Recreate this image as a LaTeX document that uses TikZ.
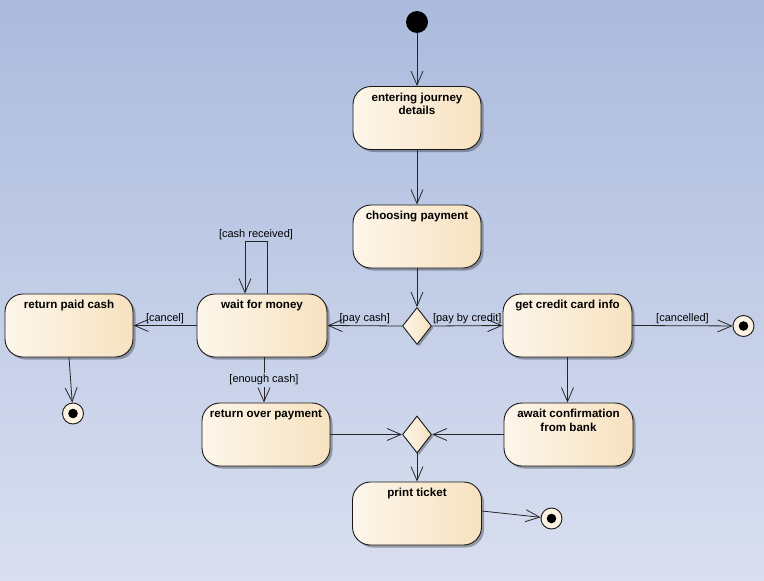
\documentclass[tikz,border=0pt]{standalone}
\usepackage{fontspec}
\setmainfont{Liberation Sans}
\usetikzlibrary{arrows.meta,shapes.geometric,shadows,calc}
\definecolor{bgT}{RGB}{171,187,221}
\definecolor{bgB}{RGB}{217,223,240}
\definecolor{bgmid}{RGB}{200,210,233}
\definecolor{nodeL}{RGB}{253,246,234}
\definecolor{nodeR}{RGB}{247,226,192}
\definecolor{endfill}{RGB}{252,243,226}
\newcommand{\sttext}[1]{\parbox[c][63pt][t]{124pt}{\centering\rule{0pt}{14.5pt}#1}}
\tikzset{
  state/.style={rectangle, rounded corners=18pt, draw=black!90, line width=0.9pt,
    left color=nodeL, right color=nodeR, minimum width=128pt, minimum height=63pt,
    inner sep=0pt, drop shadow={shadow xshift=2.5pt, shadow yshift=-2.5pt, fill=black, opacity=0.3},
    font=\bfseries\fontsize{11.6}{13.5}\selectfont},
  choice/.style={diamond, draw=black!90, line width=0.9pt, left color=nodeL, right color=nodeR,
    minimum width=29pt, minimum height=37pt, inner sep=0pt,
    drop shadow={shadow xshift=2pt, shadow yshift=-2pt, fill=black, opacity=0.3}},
  initial/.style={circle, fill=black, minimum size=22pt, inner sep=0pt},
  final/.style={circle, draw=black!90, line width=0.9pt, fill=endfill, minimum size=21pt, inner sep=0pt,
    path picture={\fill[black] (path picture bounding box.center) circle (4.8pt);}},
  arr/.style={draw=black!85, line width=0.8pt, -{Straight Barb[length=14pt,width=12pt]}},
  lbl/.style={font=\fontsize{11}{13}\selectfont, inner sep=1.5pt, text=black}
}
\begin{document}
\begin{tikzpicture}[x=1pt,y=-1pt]
\useasboundingbox (0,0) rectangle (764,581);
\shade[top color=bgT, bottom color=bgB] (0,0) rectangle (764,581);

\node[initial] (start) at (417,22) {};
\node[state] (enter) at (417,118) {\sttext{entering journey\\details}};
\node[state] (choose) at (417,236.5) {\sttext{choosing payment}};
\node[choice] (d1) at (417,326) {};
\node[state, minimum width=130pt] (wait) at (262,325.5) {\sttext{wait for money}};
\node[state] (retcash) at (69,325.5) {\sttext{return paid cash}};
\node[state, minimum width=129pt] (gcc) at (567.5,325.5) {\sttext{get credit card info}};
\node[final] (e1) at (743.5,326) {};
\node[final] (e2) at (73,413.5) {};
\node[state] (rop) at (266,434.5) {\sttext{return over payment}};
\node[state, minimum width=129pt] (await) at (568.5,434.5) {\sttext{await confirmation\\from bank}};
\node[choice] (d2) at (417,434.5) {};
\node[state, minimum width=129pt] (print) at (417,513.5) {\sttext{print ticket}};
\node[final] (e3) at (551.5,518.5) {};

\draw[arr] (start) -- (enter);
\draw[arr] (enter) -- (choose);
\draw[arr] (choose.south) -- (d1.north);
\draw[arr] (d1.west) -- node[lbl, above]{[pay cash]} (wait.east);
\draw[arr] (d1.east) -- node[lbl, above]{[pay by credit]} (gcc.west);
\draw[arr] (gcc.east) -- node[lbl, above]{[cancelled]} (e1);
\draw[arr] (wait.west) -- node[lbl, above]{[cancel]} (retcash.east);
\draw[arr] ([xshift=5pt]wait.north) -- ++(0,-52) -- node[lbl, above]{[cash received]} ++(-22,0) -- ([xshift=-17pt]wait.north);
\draw[arr] ([xshift=2pt]wait.south) -- node[lbl, fill=bgmid]{[enough cash]} ([xshift=-2pt]rop.north);
\draw[arr] (retcash.south) -- (e2);
\draw[arr] (gcc.south) -- (gcc.south |- await.north);
\draw[arr] (rop.east) -- (d2.west);
\draw[arr] (await.west) -- (d2.east);
\draw[arr] (d2.south) -- (print.north);
\draw[arr] ([yshift=2.5pt]print.east) -- (e3);
\end{tikzpicture}
\end{document}
